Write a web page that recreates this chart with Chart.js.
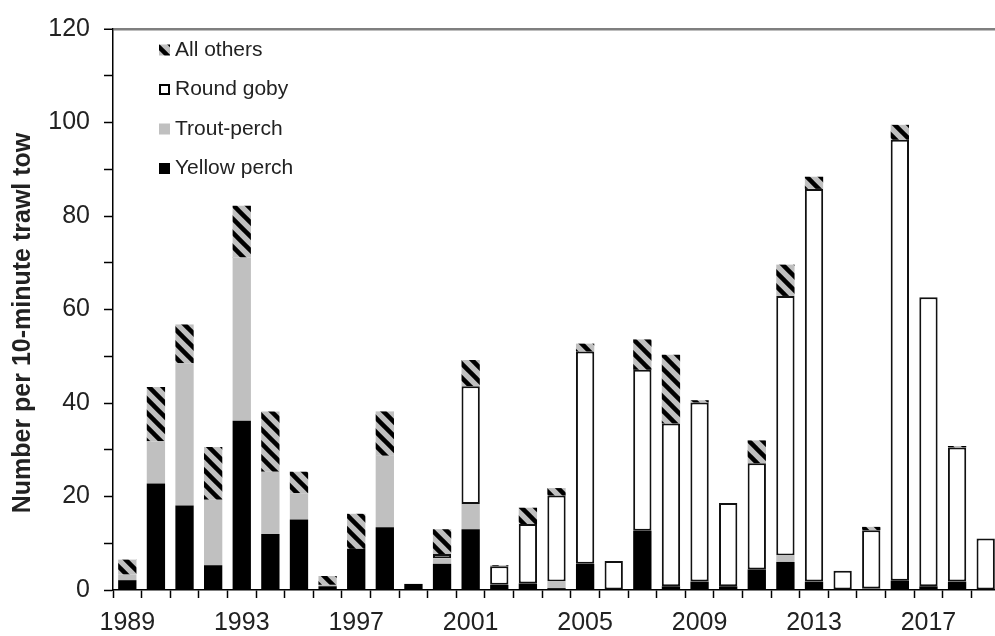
<!DOCTYPE html>
<html>
<head>
<meta charset="utf-8">
<script src="https://cdn.jsdelivr.net/npm/chart.js@4.4.1/dist/chart.umd.min.js"></script>
<style>
  html, body { margin: 0; padding: 0; background: #fff; overflow: hidden; }
  #wrap { position: relative; width: 1000px; height: 636px; }
</style>
</head>
<body>
<div id="wrap"><canvas id="myChart"></canvas></div>
<script>
// ── Trawl catch per 10-minute tow, by species group ──

const years = [];
for (let y = 1989; y <= 2019; y++) years.push(String(y));

const yellowPerch = [2.1, 22.8, 18.1, 5.3, 36.2, 12.0, 15.1, 0.8, 8.8, 13.4, 1.3, 5.6, 13.0, 1.1, 1.4, 0.4,
                     5.6, 0, 12.7, 0.8, 1.8, 0.8, 4.4, 6.0, 1.8, 0, 0.3, 2.0, 0.8, 1.8, 0];
const troutPerch  = [1.2, 9.0, 30.4, 14.0, 34.9, 13.3, 5.6, 0.3, 0, 15.3, 0, 1.2, 5.4, 0, 0, 1.4,
                     0, 0, 0, 0, 0, 0, 0, 1.4, 0, 0, 0, 0, 0, 0, 0];
const roundGoby   = [0, 0, 0, 0, 0, 0, 0, 0, 0, 0, 0, 0.9, 25.2, 4.0, 12.7, 18.4,
                     45.4, 6.2, 34.4, 34.8, 38.3, 17.8, 22.7, 55.5, 84.0, 4.1, 12.5, 94.3, 61.8, 28.7, 11.0];
const allOthers   = [3.2, 11.6, 8.3, 11.3, 11.1, 12.9, 4.6, 1.9, 7.5, 9.5, 0, 5.3, 5.6, 0.2, 3.5, 1.6,
                     1.7, 0, 6.5, 14.7, 0.5, 0, 4.9, 6.7, 2.6, 0, 0.7, 3.2, 0, 0.3, 0];

const yTicks = [0, 20, 40, 60, 80, 100, 120];
const yTitle = 'Number per 10-minute trawl tow';

const FONT = "'Liberation Sans', Arial, sans-serif";

// gray with black "\" hatching
function makeHatch() {
    const t = 14;
    const c = document.createElement('canvas');
    c.width = t; c.height = t;
    const g = c.getContext('2d');
    g.fillStyle = '#c0c0c0';
    g.fillRect(0, 0, t, t);
    g.strokeStyle = '#000';
    g.lineWidth = 4.5;
    g.lineCap = 'square';
    for (const o of [-t, 0, t]) {
        g.beginPath();
        g.moveTo(o - 2, -2);
        g.lineTo(o + t + 2, t + 2);
        g.stroke();
    }
    return g.createPattern(c, 'repeat');
}
const hatch = makeHatch();

const nz = arr => arr.map(v => (v > 0 ? v : null));

// legend drawn inside the plot, top-left, reversed stack order
const insideLegend = {
    id: 'insideLegend',
    afterDraw(chart) {
        const ctx = chart.ctx;
        const items = chart.data.datasets.slice().reverse();
        ctx.save();
        ctx.font = `21px ${FONT}`;
        ctx.textBaseline = 'middle';
        ctx.textAlign = 'left';
        items.forEach((ds, i) => {
            const cy = 50 + i * 39.5;
            const x = 159, s = 11;
            if (ds.borderWidth) {
                ctx.fillStyle = '#000';
                ctx.fillRect(x, cy - s / 2, s, s);
                ctx.fillStyle = '#fff';
                ctx.fillRect(x + 2, cy - s / 2 + 2, s - 4, s - 4);
            } else {
                ctx.fillStyle = ds.backgroundColor;
                ctx.fillRect(x, cy - s / 2, s, s);
            }
            ctx.fillStyle = '#222';
            ctx.fillText(ds.label, x + 16, cy);
        });
        ctx.restore();
    }
};

// rotated y-axis title
const axisTitle = {
    id: 'axisTitle',
    afterDraw(chart) {
        const ctx = chart.ctx;
        ctx.save();
        ctx.translate(23, 323);
        ctx.rotate(-Math.PI / 2);
        ctx.font = `bold 25px ${FONT}`;
        ctx.fillStyle = '#222';
        ctx.textAlign = 'center';
        ctx.textBaseline = 'middle';
        ctx.fillText(yTitle, 0, 0);
        ctx.restore();
    }
};

const ctx = document.getElementById('myChart').getContext('2d');
const chart = new Chart(ctx, {
    type: 'bar',
    data: {
        labels: years,
        datasets: [
            { label: 'Yellow perch', data: nz(yellowPerch), backgroundColor: '#000', borderWidth: 0 },
            { label: 'Trout-perch', data: nz(troutPerch), backgroundColor: '#c0c0c0', borderWidth: 0 },
            { label: 'Round goby', data: nz(roundGoby), backgroundColor: '#fff', borderColor: '#111',
              borderWidth: 2, borderSkipped: false },
            { label: 'All others', data: nz(allOthers), backgroundColor: hatch, borderWidth: 0 }
        ]
    },
    options: {
        responsive: true,
        maintainAspectRatio: false,
        animation: false,
        layout: { padding: { top: 21, right: 0, left: 0, bottom: 0 } },
        datasets: { bar: { barPercentage: 0.64, categoryPercentage: 1 } },
        plugins: { legend: { display: false }, tooltip: { enabled: false } },
        scales: {
            x: {
                stacked: true,
                afterFit: s => { s.height = 46; },
                grid: { offset: true, drawOnChartArea: false, drawTicks: true, tickLength: 8, tickColor: '#000', tickWidth: 1.5 },
                border: { color: '#000', width: 1.5 },
                ticks: {
                    autoSkip: false, maxRotation: 0, padding: 10,
                    color: '#222', font: { family: FONT, size: 25 },
                    callback: (v, i) => (i % 4 === 0 ? years[i] : '')
                }
            },
            y: {
                stacked: true,
                min: 0, max: 120,
                afterFit: s => { s.width = 113; },
                grid: {
                    color: c => (c.tick && c.tick.value === 120 ? '#7f7f7f' : 'rgba(0,0,0,0)'),
                    lineWidth: c => (c.tick && c.tick.value === 120 ? 2.5 : 1),
                    tickColor: '#000', tickWidth: 1.5, tickLength: 9
                },
                border: { color: '#000', width: 1.5 },
                ticks: {
                    stepSize: 10, padding: 14,
                    color: '#222', font: { family: FONT, size: 25 },
                    callback: v => (yTicks.includes(v) ? v : '')
                },
                title: { display: false }
            }
        }
    },
    plugins: [insideLegend, axisTitle]
});
</script>
</body>
</html>
